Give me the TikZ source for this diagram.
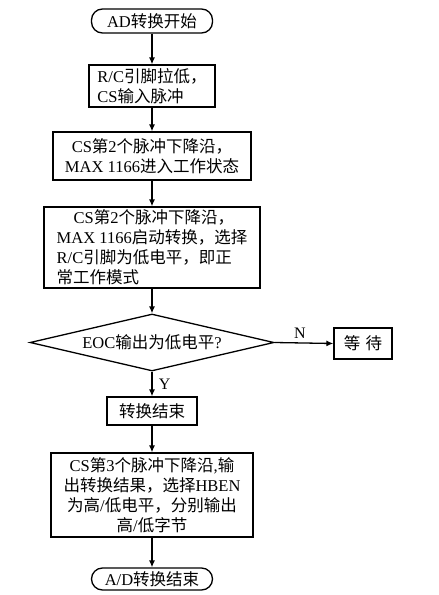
\documentclass[tikz,border=0pt]{standalone}
\usepackage{fontspec}
\setmainfont{Noto Sans CJK SC}
\newfontfamily\latfont{Liberation Serif}
\newcommand{\lt}[1]{{\latfont #1}}
\usetikzlibrary{shapes.geometric,arrows.meta}
\begin{document}
\begin{tikzpicture}[x=1pt,y=-1pt,
  every node/.style={font=\fontsize{16.5}{20}\selectfont},
  base/.style={draw,line width=1.3pt,inner sep=0pt,anchor=center},
  procbox/.style={base,rectangle},
  termbox/.style={base,rectangle,rounded corners=11pt},
  decbox/.style={base,diamond,aspect=4.28},
  arr/.style={line width=1.3pt,-{Latex[length=7pt,width=6pt]}},
  lbl/.style={font=\fontsize{16}{18}\selectfont\latfont}]
\useasboundingbox (0,0) rectangle (439,595);
\node[termbox,minimum width=121pt,minimum height=24pt] (start) at (152,21) {\lt{AD}转换开始};
\node[procbox,minimum width=126pt,minimum height=42pt,align=left] (b1) at (152,86)
  {\lt{R/C}引脚拉低，\\\lt{CS}输入脉冲};
\node[procbox,minimum width=198pt,minimum height=48pt,align=center] (b2) at (152,156)
  {\lt{CS}第\lt{2}个脉冲下降沿，\\\lt{MAX 1166}进入工作状态};
\node[procbox,minimum width=216pt,minimum height=81pt,align=left] (b3) at (152,247.5)
  {\hspace*{17pt}\lt{CS}第\lt{2}个脉冲下降沿，\\\lt{MAX 1166}启动转换，选择\\\lt{R/C}引脚为低电平，即正\\常工作模式};
\node[decbox,minimum width=244pt,minimum height=57pt] (dec) at (152,342.5)
  {\lt{EOC}输出为低电平\lt{?}};
\node[procbox,minimum width=58pt,minimum height=31pt] (wait) at (363,343.5) {等\,\,待};
\node[procbox,minimum width=90pt,minimum height=28pt] (b4) at (152,411) {转换结束};
\node[procbox,minimum width=202pt,minimum height=84pt,align=center] (b5) at (152,495)
  {\lt{CS}第\lt{3}个脉冲下降沿\lt{,}输\\出转换结果，选择\lt{HBEN}\\为高\lt{/}低电平，分别输出\\高\lt{/}低字节};
\node[termbox,minimum width=121pt,minimum height=22pt] (end) at (152,579) {\lt{A/D}转换结束};
\draw[arr] (start) -- (b1);
\draw[arr] (b1) -- (b2);
\draw[arr] (b2) -- (b3);
\draw[arr] (b3) -- (dec);
\draw[arr] (dec) -- node[lbl,right=3pt] (ylab) {Y} (b4);
\draw[arr] (dec.east) -- node[lbl,above=1pt,xshift=-4pt] (nlab) {N} (wait.west);
\draw[arr] (b4) -- (b5);
\draw[arr] (b5) -- (end);
\end{tikzpicture}
\end{document}
